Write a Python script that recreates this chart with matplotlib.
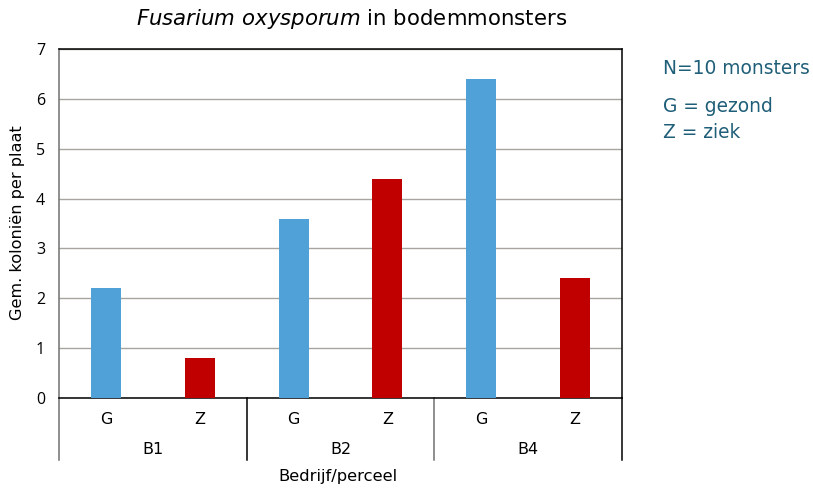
import matplotlib.pyplot as plt
import numpy as np

# data
groups = ['B1', 'B2', 'B4']
conditions = ['G', 'Z']
values = [2.2, 0.8, 3.6, 4.4, 6.4, 2.4]
bar_colors = ['#4FA1D8', '#C00000']
text_color = '#1F5E78'

W, H = 813, 488
fig = plt.figure(figsize=(W / 100, H / 100), dpi=100)
ax = fig.add_axes([59 / W, 1 - 398 / H, (622 - 59) / W, (398 - 49) / H])

n = len(values)
x = np.arange(n)
cols = [bar_colors[i % 2] for i in range(n)]
ax.bar(x, values, width=0.32, color=cols, zorder=3)

ax.set_xlim(-0.5, n - 0.5)
ax.set_ylim(0, 7)
ax.set_yticks(range(0, 8))
ax.yaxis.grid(True, color='#A8A49F', linewidth=1, zorder=0)
ax.tick_params(axis='y', length=0, pad=10, labelsize=11.5)
for lab in ax.get_yticklabels():
    lab.set_fontfamily('Open Sans')
ax.set_xticks([])

for s in ['top', 'right', 'bottom']:
    ax.spines[s].set_color('black')
    ax.spines[s].set_linewidth(1.1)
ax.spines['left'].set_color('#707070')
ax.spines['left'].set_linewidth(1.1)

# two-level category labels
tr = ax.get_xaxis_transform()
for i in range(n):
    ax.text(x[i], -0.062, conditions[i % 2], transform=tr, ha='center', va='center',
            fontsize=11.5)
for g, name in enumerate(groups):
    ax.text(2 * g + 0.5, -0.148, name, transform=tr, ha='center', va='center',
            fontsize=11.5)
for k in range(len(groups) + 1):
    xs = 2 * k - 0.5
    c = '#707070' if k in (0, 2) else 'black'
    ax.plot([xs, xs], [0, -0.178], transform=tr, color=c, linewidth=1.1, clip_on=False)

fig.text(338 / W, 1 - 476 / H, 'Bedrijf/perceel', ha='center', va='center', fontsize=11.8)
fig.text(18 / W, 1 - 223 / H, 'Gem. koloniën per plaat', rotation=90, ha='center',
         va='center', fontsize=11.6)
fig.text(352 / W, 1 - 19 / H, r'$\mathit{Fusarium\ oxysporum}$ in bodemmonsters',
         ha='center', va='center', fontsize=15.3)

fig.text(663 / W, 1 - 69 / H, 'N=10 monsters', color=text_color, ha='left', va='center',
         fontsize=13.4)
fig.text(663 / W, 1 - 107 / H, 'G = gezond', color=text_color, ha='left', va='center',
         fontsize=13.4)
fig.text(663 / W, 1 - 132 / H, 'Z = ziek', color=text_color, ha='left', va='center',
         fontsize=13.4)

plt.savefig('out.png', dpi=100)
